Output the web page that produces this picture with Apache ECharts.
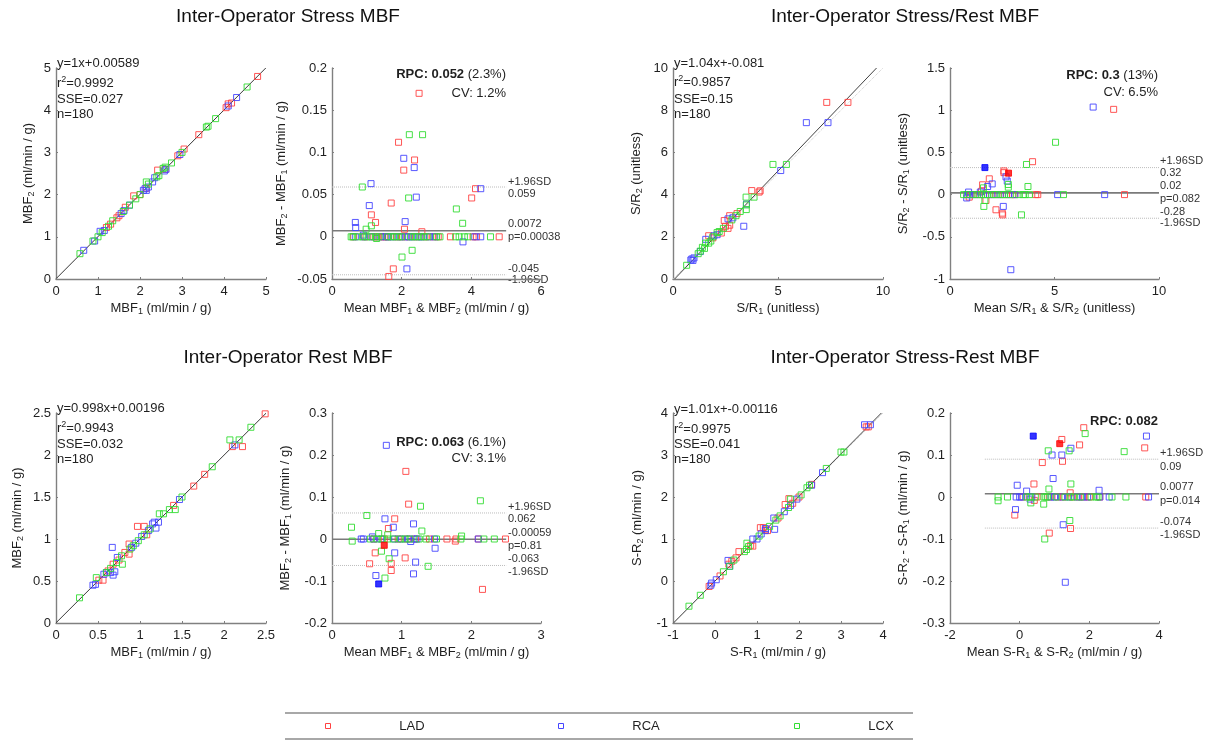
<!DOCTYPE html>
<html>
<head>
<meta charset="utf-8">
<title>Inter-Operator MBF</title>
<script src="https://cdn.jsdelivr.net/npm/echarts@6/dist/echarts.min.js"></script>
<style>
    html, body { margin: 0; padding: 0; background: #fff; }
    #main { width: 1212px; height: 740px; }
</style>
</head>
<body>
<div id="main"></div>
<script>
// ---------- data ----------
// Stress MBF, operator 1 vs operator 2
var stressLad = [[1.2,1.22],[1.3,1.3],[1.45,1.45],[1.5,1.5],[1.65,1.7],[1.85,1.97],[2.0,2.0],[2.15,2.15],[2.42,2.58],[2.6,2.6],[2.9,2.92],[3.05,3.08],[3.4,3.42],[4.05,4.06],[4.1,4.15],[4.18,4.17],[4.8,4.8]];
var stressRca = [[0.66,0.68],[0.92,0.9],[1.05,1.13],[1.15,1.15],[1.55,1.55],[1.62,1.62],[1.75,1.75],[2.08,2.1],[2.12,2.14],[2.15,2.1],[2.2,2.18],[2.3,2.3],[2.35,2.4],[2.58,2.56],[2.62,2.6],[2.95,2.95],[4.1,4.1],[4.3,4.3]];
var stressLcx = [[0.57,0.6],[0.88,0.9],[1.0,1.0],[1.1,1.1],[1.25,1.25],[1.35,1.38],[1.6,1.6],[1.75,1.75],[1.9,1.9],[2.0,2.0],[2.2,2.25],[2.15,2.3],[2.4,2.42],[2.45,2.45],[2.55,2.62],[2.6,2.65],[2.75,2.75],[3.0,3.0],[3.58,3.6],[3.62,3.62],[3.8,3.8],[4.55,4.55]];
// Stress MBF, Bland-Altman (mean, difference)
var stressDiffLad = [[2.5,0.17],[1.91,0.112],[2.37,0.091],[2.06,0.079],[4.12,0.057],[4.01,0.046],[1.7,0.04],[1.13,0.026],[1.25,0.017],[2.08,0.009],[2.58,0.006],[1.76,-0.038],[1.63,-0.047]];
var stressDiffRca = [[2.06,0.093],[2.36,0.082],[1.12,0.063],[4.27,0.057],[2.42,0.047],[1.07,0.037],[2.1,0.018],[0.67,0.017],[0.68,0.011],[0.9,0.002],[3.76,-0.006],[2.15,-0.038]];
var stressDiffLcx = [[2.22,0.121],[2.6,0.121],[0.87,0.059],[2.2,0.046],[3.57,0.033],[3.75,0.016],[1.13,0.013],[0.98,0.009],[1.28,-0.002],[2.3,-0.016],[2.01,-0.024]];
var stressZeroLad = [0.62,0.95,1.2,1.3,1.45,1.5,1.6,1.85,2.0,2.15,2.4,2.7,2.9,3.05,3.4,4.05,4.15,4.8];
var stressZeroRca = [0.67,0.92,1.15,1.4,1.55,1.62,1.75,1.95,2.1,2.2,2.3,2.5,2.58,2.8,2.95,4.1,4.27];
var stressZeroLcx = [0.55,0.6,0.75,0.88,1.0,1.1,1.25,1.35,1.6,1.7,1.8,1.9,2.0,2.25,2.35,2.45,2.55,2.65,2.75,3.0,3.1,3.55,3.65,3.8,3.9,4.55];

// Stress/Rest ratio
var ratioLad = [[1.7,2.05],[1.9,1.95],[2.3,2.18],[2.44,2.77],[2.5,2.5],[2.62,2.4],[2.7,2.55],[2.7,3.0],[3.05,3.1],[3.75,4.19],[4.1,4.12],[4.15,4.18],[7.32,8.37],[8.33,8.37]];
var ratioRca = [[0.85,0.9],[0.9,0.95],[0.95,0.88],[1.0,1.0],[1.3,1.3],[1.56,1.88],[1.95,2.05],[2.1,2.1],[2.62,2.85],[2.85,2.9],[3.37,2.5],[3.5,3.55],[5.13,5.14],[6.35,7.41],[7.38,7.41]];
var ratioLcx = [[0.65,0.65],[1.2,1.2],[1.3,1.32],[1.4,1.5],[1.5,1.45],[1.55,1.7],[1.7,1.7],[1.8,1.8],[1.9,2.0],[2.1,2.2],[2.2,2.25],[2.4,2.4],[2.8,2.8],[3.0,3.0],[3.2,3.2],[3.49,3.29],[3.49,3.51],[3.48,3.88],[3.86,3.88],[4.76,5.43],[5.4,5.43]];
var ratioDiffLad = [[7.83,1.01],[3.95,0.39],[2.58,0.28],[2.58,0.26],[1.88,0.187],[1.56,0.116],[1.51,0.04],[0.92,-0.03],[1.72,-0.07],[2.2,-0.18],[2.5,-0.22],[2.52,-0.24]];
var ratioDiffRca = [[6.85,1.037],[2.68,0.21],[2.74,0.16],[2.02,0.127],[1.8,0.096],[1.45,0.03],[0.89,0.03],[0.8,-0.04],[2.55,-0.14],[2.91,-0.89]];
var ratioDiffLcx = [[5.05,0.62],[3.66,0.357],[2.79,0.12],[2.79,0.088],[3.73,0.096],[1.6,0.08],[1.67,-0.07],[1.62,-0.14],[3.42,-0.24]];
var ratioZeroLad = [1.0,1.4,1.9,2.3,2.7,3.0,3.1,4.1,4.2,8.35];
var ratioZeroRca = [0.85,0.95,1.2,1.6,2.0,2.4,2.8,3.1,5.15,7.4];
var ratioZeroLcx = [0.65,0.8,1.1,1.3,1.5,1.7,1.8,2.1,2.2,2.5,2.6,2.9,3.3,3.5,3.6,3.8,5.43];
var ratioHiLad = [[2.8,0.254]];
var ratioHiRca = [[1.67,0.32]];

// Rest MBF
var restLad = [[0.51,0.51],[0.56,0.51],[0.62,0.62],[0.68,0.7],[0.75,0.75],[0.82,0.84],[0.87,0.82],[0.87,0.94],[0.97,1.15],[1.05,1.15],[1.08,1.05],[1.4,1.4],[1.64,1.63],[1.77,1.77],[2.1,2.1],[2.22,2.1],[2.49,2.49]];
var restRca = [[0.44,0.45],[0.47,0.46],[0.57,0.58],[0.6,0.6],[0.65,0.6],[0.67,0.9],[0.7,0.61],[0.68,0.57],[0.73,0.78],[0.9,0.9],[0.95,0.95],[1.02,1.03],[1.1,1.1],[1.15,1.18],[1.17,1.2],[1.19,1.13],[1.22,1.2],[1.47,1.47],[2.13,2.12]];
var restLcx = [[0.28,0.3],[0.48,0.54],[0.6,0.6],[0.65,0.65],[0.72,0.72],[0.78,0.8],[0.79,0.7],[0.88,0.88],[0.92,0.92],[0.98,0.98],[1.05,1.05],[1.12,1.12],[1.23,1.3],[1.28,1.3],[1.35,1.35],[1.42,1.35],[1.5,1.5],[1.86,1.86],[2.07,2.18],[2.18,2.18],[2.32,2.33]];
var restDiffLad = [[1.06,0.161],[1.1,0.083],[0.9,0.048],[0.81,0.025],[1.77,-0.005],[0.62,-0.033],[1.05,-0.045],[0.85,-0.058],[0.54,-0.059],[0.85,-0.075],[2.16,-0.12]];
var restDiffRca = [[0.78,0.223],[0.76,0.048],[1.17,0.036],[0.88,0.028],[0.58,0.005],[1.13,-0.006],[0.9,-0.033],[1.48,-0.022],[1.2,-0.055],[1.17,-0.083],[0.63,-0.087]];
var restDiffLcx = [[2.13,0.091],[1.27,0.078],[0.5,0.056],[0.28,0.028],[1.29,0.019],[0.67,0.013],[0.8,0.01],[1.86,0.007],[0.29,-0.005],[0.71,-0.029],[0.82,-0.047],[1.38,-0.065],[0.76,-0.093]];
var restZeroLad = [0.6,0.75,0.95,1.08,1.2,1.4,1.65,1.78,2.1,2.49];
var restZeroRca = [0.42,0.45,0.6,0.7,0.9,1.0,1.1,1.18,1.22,1.47,2.1];
var restZeroLcx = [0.55,0.65,0.72,0.8,0.88,0.98,1.05,1.12,1.25,1.35,1.5,1.85,2.18,2.33];
var restHiLad = [[0.75,-0.015]];
var restHiRca = [[0.67,-0.107]];

// Stress-Rest difference
var deltaLad = [[-0.14,-0.13],[0.12,0.12],[0.33,0.4],[0.4,0.47],[0.5,0.55],[0.57,0.7],[0.85,0.85],[0.9,0.83],[1.08,1.27],[1.15,1.27],[1.2,1.22],[1.25,1.2],[1.5,1.5],[1.67,1.82],[1.76,1.96],[1.85,1.85],[2.0,2.0],[2.3,2.3],[3.6,3.67],[3.65,3.67]];
var deltaRca = [[-0.1,-0.1],[-0.08,-0.05],[0.03,0.03],[0.31,0.49],[0.35,0.35],[0.9,1.0],[1.0,1.0],[1.1,1.12],[1.2,1.2],[1.2,1.25],[1.42,1.23],[1.4,1.5],[1.65,1.65],[1.8,1.8],[1.95,1.95],[2.3,2.28],[2.56,2.58],[3.56,3.72],[3.7,3.72]];
var deltaLcx = [[-0.62,-0.6],[-0.35,-0.34],[0.2,0.22],[0.35,0.35],[0.45,0.5],[0.7,0.7],[0.75,0.75],[0.76,0.9],[0.8,0.82],[1.05,1.07],[1.3,1.3],[1.45,1.45],[1.55,1.55],[1.75,1.75],[1.8,1.95],[2.05,2.05],[2.19,2.22],[2.25,2.28],[2.65,2.68],[3.0,3.07],[3.07,3.07]];
var deltaDiffLad = [[1.84,0.165],[1.21,0.137],[1.72,0.124],[3.59,0.117],[1.23,0.085],[0.65,0.082],[0.41,0.031],[1.45,0.01],[0.42,-0.008],[-0.14,-0.043],[1.46,-0.075],[0.85,-0.086]];
var deltaDiffRca = [[3.64,0.145],[1.47,0.116],[1.21,0.1],[0.93,0.1],[0.96,0.044],[-0.07,0.028],[2.28,0.016],[0.2,0.014],[0.3,-0.005],[-0.12,-0.03],[1.25,-0.066],[1.31,-0.203]];
var deltaDiffLcx = [[1.88,0.151],[1.42,0.11],[0.82,0.11],[3.0,0.108],[1.47,0.031],[0.84,0.019],[-0.62,-0.009],[0.32,-0.014],[0.69,-0.017],[1.44,-0.056],[0.72,-0.1]];
var deltaZeroLad = [0.1,0.5,0.85,1.1,1.25,1.5,1.7,1.85,2.0,2.3,3.62];
var deltaZeroRca = [-0.1,0.0,0.05,0.35,0.9,1.0,1.2,1.4,1.65,1.8,1.95,2.3,2.57,3.7];
var deltaZeroLcx = [-0.62,-0.35,0.2,0.3,0.45,0.7,0.75,0.8,1.05,1.3,1.45,1.55,1.75,2.05,2.2,2.25,2.65,3.05];
var deltaHiLad = [[1.15,0.127]];
var deltaHiRca = [[0.39,0.145]];

// fit and Bland-Altman statistics
var fitSlope = [1, 1.04, 0.998, 1.01];
var fitIntercept = [0.00589, -0.081, 0.00196, -0.00116];
var fitEq = ['y=1x+0.00589', 'y=1.04x+-0.081', 'y=0.998x+0.00196', 'y=1.01x+-0.00116'];
var fitR2 = ['0.9992', '0.9857', '0.9943', '0.9975'];
var fitSSE = ['0.027', '0.15', '0.032', '0.041'];
var fitN = ['180', '180', '180', '180'];
var baMean = [0.0072, 0.02, -0.00059, 0.0077];
var baUpper = [0.059, 0.32, 0.062, 0.09];
var baLower = [-0.045, -0.28, -0.063, -0.074];
var baP = ['p=0.00038', 'p=0.082', 'p=0.81', 'p=0.014'];
var baSpan = [[0, 5], [0, 10], [0, 2.5], [-1, 4]];
var rpcVal = ['0.052', '0.3', '0.063', '0.082'];
var rpcPct = [' (2.3%)', ' (13%)', ' (6.1%)', ''];
var cvText = ['CV: 1.2%', 'CV: 6.5%', 'CV: 3.1%', ''];
var titles = ['Inter-Operator Stress MBF', 'Inter-Operator Stress/Rest MBF', 'Inter-Operator Rest MBF', 'Inter-Operator Stress-Rest MBF'];
var groups = ['LAD', 'RCA', 'LCX'];

// axis ranges: [min, max, interval]
var scatterX = [[0,5,1],[0,10,5],[0,2.5,0.5],[-1,4,1]];
var scatterY = [[0,5,1],[0,10,2],[0,2.5,0.5],[-1,4,1]];
var baX = [[0,6,2],[0,10,5],[0,3,1],[-2,4,2]];
var baY = [[-0.05,0.2,0.05],[-1,1.5,0.5],[-0.2,0.3,0.1],[-0.3,0.2,0.1]];

var scatterXName = ['MBF{s|1} (ml/min / g)', 'S/R{s|1} (unitless)', 'MBF{s|1} (ml/min / g)', 'S-R{s|1} (ml/min / g)'];
var scatterYName = ['MBF{s|2} (ml/min / g)', 'S/R{s|2} (unitless)', 'MBF{s|2} (ml/min / g)', 'S-R{s|2} (ml/min / g)'];
var baXName = ['Mean MBF{s|1} & MBF{s|2} (ml/min / g)', 'Mean S/R{s|1} & S/R{s|2} (unitless)', 'Mean MBF{s|1} & MBF{s|2} (ml/min / g)', 'Mean S-R{s|1} & S-R{s|2} (ml/min / g)'];
var baYName = ['MBF{s|2} - MBF{s|1} (ml/min / g)', 'S/R{s|2} - S/R{s|1} (unitless)', 'MBF{s|2} - MBF{s|1} (ml/min / g)', 'S-R{s|2} - S-R{s|1} (ml/min / g)'];

var scatterSets = [[stressLad, stressRca, stressLcx], [ratioLad, ratioRca, ratioLcx], [restLad, restRca, restLcx], [deltaLad, deltaRca, deltaLcx]];
var diffSets = [[stressDiffLad, stressDiffRca, stressDiffLcx], [ratioDiffLad, ratioDiffRca, ratioDiffLcx], [restDiffLad, restDiffRca, restDiffLcx], [deltaDiffLad, deltaDiffRca, deltaDiffLcx]];
var zeroSets = [[stressZeroLad, stressZeroRca, stressZeroLcx], [ratioZeroLad, ratioZeroRca, ratioZeroLcx], [restZeroLad, restZeroRca, restZeroLcx], [deltaZeroLad, deltaZeroRca, deltaZeroLcx]];
var hiSets = [[[], []], [ratioHiLad, ratioHiRca], [restHiLad, restHiRca], [deltaHiLad, deltaHiRca]];

// ---------- layout / style ----------
var FONT = 'Arial, "Liberation Sans", Helvetica, sans-serif';
var COLORS = ['#ff4242', '#4646ff', '#33dd33'];
var SOLID = ['#ff0000', '#0000ff'];
var AXIS_C = '#808080';
var TXT_C = '#1f1f1f';

// lx: where the right-hand labels start (end of the reference lines)
var layout = [
    {sx: 56,  bx: 332, top: 68,  h: 211, sGap: 20, bGap: 43, tx: 288, ty: 17,  lx: 508,  statY: [63, 83, 99, 114],   rpcY: [74, 93],   lab: [182, 194, 224, 237, 269, 280]},
    {sx: 673, bx: 950, top: 68,  h: 211, sGap: 29, bGap: 39, tx: 905, ty: 17,  lx: 1160, statY: [63, 82, 99, 114],   rpcY: [75, 92],   lab: [161, 173, 186, 199, 212, 223]},
    {sx: 56,  bx: 332, top: 413, h: 210, sGap: 31, bGap: 39, tx: 288, ty: 358, lx: 508,  statY: [408, 428, 444, 459], rpcY: [442, 458], lab: [507, 519, 533, 546, 559, 572]},
    {sx: 673, bx: 950, top: 413, h: 210, sGap: 28, bGap: 39, tx: 905, ty: 358, lx: 1160, statY: [409, 429, 444, 459], rpcY: [421, 438], lab: [453, 467, 487, 501, 522, 535]}
];

function makeAxis(idx, r, name, gap, isY) {
    return {
        type: 'value', gridIndex: idx, min: r[0], max: r[1], interval: r[2],
        name: name, nameLocation: 'middle', nameGap: gap,
        nameTextStyle: {fontSize: 13, color: TXT_C, fontFamily: FONT,
            rich: {s: {fontSize: 9, color: TXT_C, fontFamily: FONT, padding: [7, 0, 0, 0]}}},
        axisLine: {show: true, onZero: false, lineStyle: {color: AXIS_C, width: 1.4}},
        axisTick: {show: true, inside: true, length: 2, lineStyle: {color: AXIS_C}},
        axisLabel: {fontSize: 13, color: TXT_C, fontFamily: FONT, margin: isY ? 5 : 6},
        splitLine: {show: false}
    };
}

function pointSeries(idx, data, color, filled, name) {
    return {
        type: 'scatter', name: name, xAxisIndex: idx, yAxisIndex: idx, data: data,
        symbol: 'rect', symbolSize: 6, silent: true, z: 4,
        itemStyle: filled ? {color: color, borderColor: color, borderWidth: 1}
                          : {color: 'rgba(0,0,0,0)', borderColor: color, borderWidth: 1, opacity: 0.9}
    };
}

function lineSeries(idx, pts, color, width, type) {
    return {
        type: 'line', xAxisIndex: idx, yAxisIndex: idx, data: pts, symbol: 'none',
        silent: true, z: 2, lineStyle: {color: color, width: width, type: type}
    };
}

var option = {
    animation: false,
    backgroundColor: '#fff',
    grid: [], xAxis: [], yAxis: [], series: [], graphic: []
};
var g = option.graphic;

function text(x, y, str, opt) {
    var style = {text: str, fill: TXT_C, font: '13px ' + FONT, textAlign: 'left', textVerticalAlign: 'middle'};
    for (var key in (opt || {})) style[key] = opt[key];
    g.push({type: 'text', x: x, y: y, silent: true, style: style});
}

for (var k = 0; k < 4; k++) {
    var L = layout[k];
    var si = 2 * k, bi = 2 * k + 1;
    option.grid.push({left: L.sx, top: L.top, width: 210, height: L.h});
    option.grid.push({left: L.bx, top: L.top, width: 209, height: L.h});
    option.xAxis.push(makeAxis(si, scatterX[k], scatterXName[k], 21, false));
    option.yAxis.push(makeAxis(si, scatterY[k], scatterYName[k], L.sGap, true));
    option.xAxis.push(makeAxis(bi, baX[k], baXName[k], 21, false));
    option.yAxis.push(makeAxis(bi, baY[k], baYName[k], L.bGap, true));

    // identity line and fitted line, clipped to the axes
    var xr = scatterX[k], yr = scatterY[k];
    var m = fitSlope[k], b = fitIntercept[k];
    var x0 = Math.max(xr[0], (yr[0] - b) / m), x1 = Math.min(xr[1], (yr[1] - b) / m);
    option.series.push(lineSeries(si, [[xr[0], xr[0]], [xr[1], xr[1]]], '#c8c8c8', 1, 'dotted'));
    option.series.push(lineSeries(si, [[x0, m * x0 + b], [x1, m * x1 + b]], '#2a2a2a', 0.9, 'solid'));

    // Bland-Altman reference lines
    var sp = baSpan[k];
    option.series.push(lineSeries(bi, [[sp[0], baUpper[k]], [sp[1], baUpper[k]]], '#bdbdbd', 1, 'dotted'));
    option.series.push(lineSeries(bi, [[sp[0], baLower[k]], [sp[1], baLower[k]]], '#bdbdbd', 1, 'dotted'));
    option.series.push(lineSeries(bi, [[sp[0], baMean[k]], [sp[1], baMean[k]]], '#7a7a7a', 1.6, 'solid'));

    for (var c = 0; c < 3; c++) {
        option.series.push(pointSeries(si, scatterSets[k][c], COLORS[c], false, groups[c]));
        var zeros = zeroSets[k][c].map(function (x) { return [x, 0]; });
        option.series.push(pointSeries(bi, zeros.concat(diffSets[k][c]), COLORS[c], false, groups[c]));
    }
    for (var h = 0; h < 2; h++) {
        if (hiSets[k][h].length) option.series.push(pointSeries(bi, hiSets[k][h], SOLID[h], true, groups[h]));
    }

    // titles
    text(L.tx, L.ty, titles[k], {font: '19px ' + FONT, textAlign: 'center', fill: '#111'});

    // fit statistics
    var sup = {s: {font: '9px ' + FONT, fill: TXT_C, padding: [0, 0, 7, 0]}};
    text(L.sx + 1, L.statY[0], fitEq[k]);
    text(L.sx + 1, L.statY[1], 'r{s|2}=' + fitR2[k], {rich: sup});
    text(L.sx + 1, L.statY[2], 'SSE=' + fitSSE[k]);
    text(L.sx + 1, L.statY[3], 'n=' + fitN[k]);

    // RPC / CV
    var rEnd = L.lx - 2;
    text(rEnd, L.rpcY[0], '{b|RPC: ' + rpcVal[k] + '}' + rpcPct[k],
        {textAlign: 'right', rich: {b: {font: 'bold 13px ' + FONT, fill: TXT_C}}});
    if (cvText[k]) text(rEnd, L.rpcY[1], cvText[k], {textAlign: 'right'});

    // limits of agreement labels
    var labs = ['+1.96SD', String(baUpper[k]), String(baMean[k]), baP[k], String(baLower[k]), '-1.96SD'];
    for (var j = 0; j < 6; j++) {
        text(L.lx, L.lab[j], labs[j], {font: '11px ' + FONT, fill: '#333'});
    }
}

// legend box
g.push({type: 'line', silent: true, shape: {x1: 285, y1: 713, x2: 913, y2: 713}, style: {stroke: '#a8a8a8', lineWidth: 2}});
g.push({type: 'line', silent: true, shape: {x1: 285, y1: 739, x2: 913, y2: 739}, style: {stroke: '#a8a8a8', lineWidth: 2}});
var legMark = [328, 561, 797], legText = [412, 646, 881];
for (var i = 0; i < 3; i++) {
    g.push({type: 'rect', silent: true, shape: {x: legMark[i] - 2.5, y: 723.5, width: 5, height: 5},
        style: {fill: 'none', stroke: COLORS[i], lineWidth: 1}});
    text(legText[i], 726, groups[i], {textAlign: 'center', font: '13px ' + FONT});
}

var chart = echarts.init(document.getElementById('main'));
chart.setOption(option);
</script>
</body>
</html>
